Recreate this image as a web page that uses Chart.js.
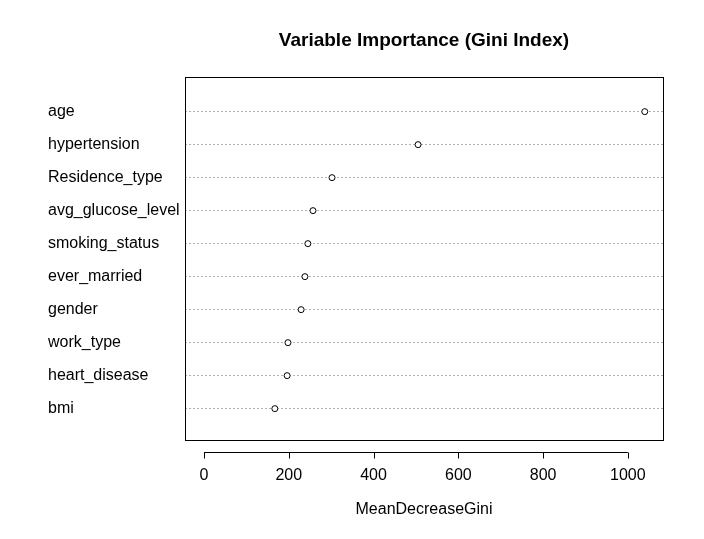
<!DOCTYPE html>
<html><head><script src="https://cdn.jsdelivr.net/npm/chart.js@4/dist/chart.umd.min.js"></script>
<style>body{margin:0;background:#fff}</style></head>
<body><div style="width:704px;height:539px"><canvas id="c"></canvas></div>
<script>
const categories=["age","hypertension","Residence_type","avg_glucose_level","smoking_status","ever_married","gender","work_type","heart_disease","bmi"];
const values=[1040,505,302,257,245,238,229,198,196,167];
const xTicks=[0,200,400,600,800,1000];
const n=categories.length;
const pts=values.map((v,i)=>({x:v,y:n-i}));
const deco={id:'deco',afterDraw(ch){
 const c=ch.ctx,a=ch.chartArea,x=ch.scales.x;
 c.save();c.strokeStyle='#000';c.lineWidth=1;
 c.strokeRect(a.left+0.5,a.top+0.5,a.right-a.left,a.bottom-a.top);
 const y0=a.bottom+12.5;
 c.beginPath();c.moveTo(x.getPixelForValue(xTicks[0]),y0);c.lineTo(x.getPixelForValue(xTicks[xTicks.length-1]),y0);
 xTicks.forEach(t=>{const p=Math.round(x.getPixelForValue(t))+0.5;c.moveTo(p,y0);c.lineTo(p,y0+6);});
 c.stroke();
 c.fillStyle='#000';c.textAlign='center';c.textBaseline='middle';
 c.font='bold 19px "Liberation Sans", Arial';c.fillText('Variable Importance (Gini Index)',(a.left+a.right)/2,41);
 c.font='16px "Liberation Sans", Arial';c.fillText('MeanDecreaseGini',(a.left+a.right)/2,510);
 c.restore();}};
new Chart(document.getElementById('c'),{type:'scatter',
 data:{datasets:[{data:pts,pointRadius:3,pointBackgroundColor:'#fff',pointBorderColor:'#000',pointBorderWidth:1}]},
 options:{responsive:true,maintainAspectRatio:false,animation:false,
  layout:{padding:{top:77,right:41,left:48,bottom:0}},
  plugins:{legend:{display:false},tooltip:{enabled:false}},
  scales:{
   x:{type:'linear',min:-45,max:1083,afterBuildTicks(s){s.ticks=xTicks.map(v=>({value:v}));},
      afterFit(s){s.height=99;},
      grid:{display:false},border:{display:false},
      ticks:{padding:18,color:'#000',font:{family:'"Liberation Sans", Arial',size:16},maxRotation:0,callback:v=>String(v)}},
   y:{type:'linear',min:0.05,max:11.05,afterBuildTicks(s){s.ticks=categories.map((c,i)=>({value:n-i}));},
      afterFit(s){s.width=137;},
      border:{display:false,dash:[2,2]},
      grid:{color:'#b0b0b0',lineWidth:1,drawTicks:false},
      ticks:{crossAlign:'far',padding:0,color:'#000',font:{family:'"Liberation Sans", Arial',size:16},
        callback:(v)=>categories[n-v]}}
  }},
 plugins:[deco]
});
</script></body></html>
